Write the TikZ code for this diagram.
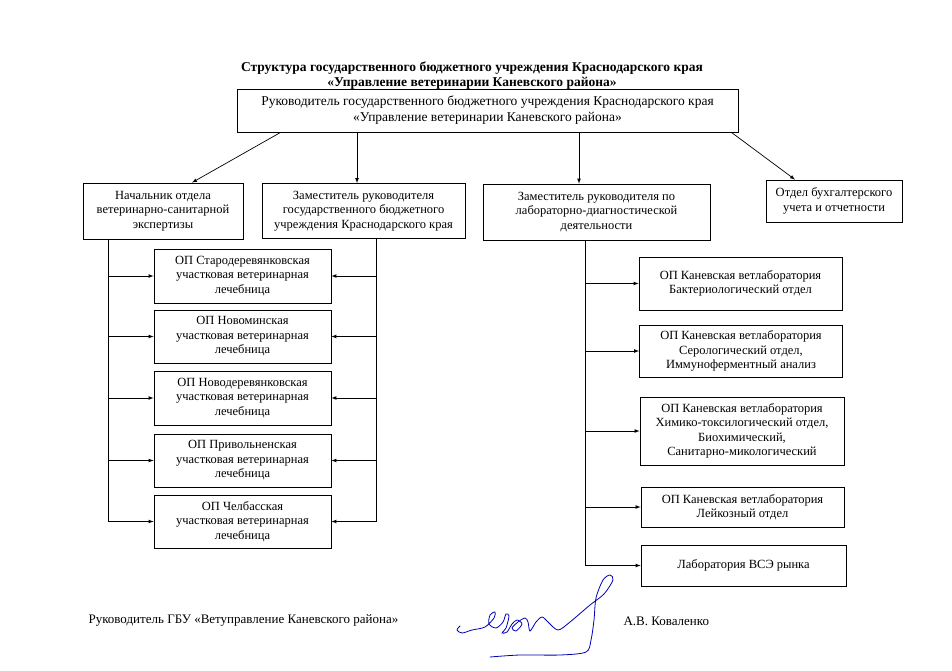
\documentclass[tikz,border=0pt]{standalone}
\usepackage{fontspec}
\setmainfont{Liberation Serif}
\usetikzlibrary{calc}
\begin{document}
\begin{tikzpicture}[x=1pt,y=-1pt]

                \tikzstyle{unit}  = [rectangle, draw, line width=0.8pt, align=center, inner sep=2pt, font=\fontsize{12.5}{14.5}\selectfont]
                \tikzstyle{link}  = [-latex, line width=0.7pt]
                \tikzstyle{sign}  = [draw=blue!70!black, line width=0.8pt, line cap=round]
                \useasboundingbox (0,0) rectangle (952,671);
                \node [align=center, font=\bfseries\fontsize{13.5}{15}\selectfont](title) at (472,76) {Структура государственного бюджетного учреждения Краснодарского края\\«Управление ветеринарии Каневского района»};
                \node [unit, minimum width=501pt, minimum height=43pt, font=\fontsize{13.5}{16}\selectfont](head) at (487.5,110.5) {Руководитель государственного бюджетного учреждения Краснодарского края\\«Управление ветеринарии Каневского района»};
                \node [unit, minimum width=160pt, minimum height=56pt](nach) at (163,211) {Начальник отдела\\ветеринарно-санитарной\\экспертизы};
                \node [unit, minimum width=203pt, minimum height=55pt](zam) at (363.5,211) {Заместитель руководителя\\государственного бюджетного\\учреждения Краснодарского края};
                \node [unit, minimum width=227pt, minimum height=56pt](lab) at (596.5,212) {Заместитель руководителя по\\лабораторно-диагностической\\деятельности};
                \node [unit, minimum width=136pt, minimum height=42pt](buh) at (834,201) {Отдел бухгалтерского\\учета и отчетности};
                % lechebnitsy
                \node [unit, minimum width=177pt, minimum height=54pt](op1) at (242.5,276) {ОП Стародеревянковская\\участковая ветеринарная\\лечебница};
                \node [unit, minimum width=177pt, minimum height=53pt](op2) at (242.5,336.5) {ОП Новоминская\\участковая ветеринарная\\лечебница};
                \node [unit, minimum width=177pt, minimum height=54pt](op3) at (242.5,398) {ОП Новодеревянковская\\участковая ветеринарная\\лечебница};
                \node [unit, minimum width=177pt, minimum height=53pt](op4) at (242.5,460.5) {ОП Привольненская\\участковая ветеринарная\\лечебница};
                \node [unit, minimum width=177pt, minimum height=53pt](op5) at (242.5,521.5) {ОП Челбасская\\участковая ветеринарная\\лечебница};
                % vetlaboratoriya
                \node [unit, minimum width=203pt, minimum height=53pt](r1) at (740.5,283.5) {ОП Каневская ветлаборатория\\Бактериологический отдел};
                \node [unit, minimum width=203pt, minimum height=52pt](r2) at (741,351) {ОП Каневская ветлаборатория\\Серологический отдел,\\Иммуноферментный анализ};
                \node [unit, minimum width=204pt, minimum height=68pt](r3) at (742,431) {ОП Каневская ветлаборатория\\Химико-токсилогический отдел,\\Биохимический,\\Санитарно-микологический};
                \node [unit, minimum width=203pt, minimum height=40pt](r4) at (742.5,507) {ОП Каневская ветлаборатория\\Лейкозный отдел};
                \node [unit, minimum width=205pt, minimum height=41pt](r5) at (743.5,565.5) {Лаборатория ВСЭ рынка};
                % podpis
                \node [anchor=west, font=\fontsize{13}{15}\selectfont](ruk) at (85,620) {Руководитель ГБУ «Ветуправление Каневского района»};
                \node [anchor=west, font=\fontsize{13}{15}\selectfont](fio) at (620,621) {А.В. Коваленко};

                \coordinate (zt) at ($(zam.north)+(-6.5,0)$);
                \coordinate (lt) at ($(lab.north)+(-17.5,0)$);
                \draw [link] ($(head.south west)+(44,0)$) -- ($(nach.north)+(29,0)$);
                \draw [link] (head.south -| zt) -- (zt);
                \draw [link] (head.south -| lt) -- (lt);
                \draw [link] ($(head.south east)+(-7,0)$) -- ($(buh.north)+(-39,0)$);

                \coordinate (tl) at ($(nach.south)+(-55,0)$);
                \coordinate (tr) at ($(zam.south)+(12.5,0)$);
                \coordinate (tb) at ($(lab.south)+(-11.5,0)$);
                \foreach \i in {1,...,5}{
                  \draw [link] (tl) |- (op\i.west);
                  \draw [link] (tr) |- (op\i.east);
                  \draw [link] (tb) |- (r\i.west);
                }

                \draw [sign] plot [smooth, tension=0.5] coordinates {(460,626) (457,630) (462,633) (472,630) (485,627) (494,618) (495,612) (490,615) (489,624) (496,628) (503,622) (506,614) (509,616) (506,628) (502,633) (507,632) (512,624) (517,620) (522,624) (516,631) (512,628) (518,622) (525,618) (528,622) (530,631) (536,622) (542,617) (548,622) (558,630) (570,622) (590,605) (604,594) (613,580) (610,575) (603,580) (596,598) (594,620) (591,640) (586,652) (560,655) (520,655) (490,657)};
\end{tikzpicture}
\end{document}
